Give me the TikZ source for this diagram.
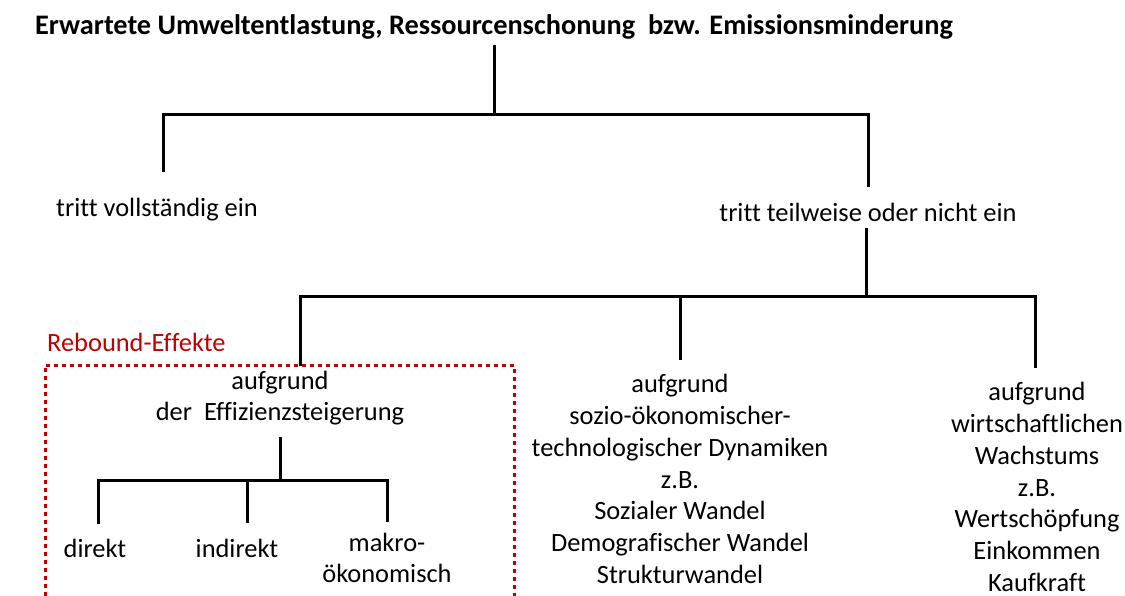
\documentclass[tikz,border=0pt]{standalone}
\usepackage{fontspec}
\setmainfont{Carlito}[Ligatures=NoCommon]
\definecolor{rebred}{RGB}{192,0,0}
\begin{document}
\begin{tikzpicture}[x=1pt,y=-1pt,
  lbl/.style={font=\fontsize{26.4}{31.7}\selectfont, align=center, inner sep=0pt},
  branch/.style={line width=3pt, black},
  rebbox/.style={line width=3pt, rebred, dash pattern=on 4pt off 4pt}]
\useasboundingbox (0,0) rectangle (1125,596);

% texts
\node[lbl, font=\fontsize{28.3}{32}\bfseries] (title) at (494,27) {Erwartete Umweltentlastung, Ressourcenschonung\ \ bzw. Emissionsminderung};
\node[lbl] (voll) at (157,210) {tritt vollständig ein};
\node[lbl] (teil) at (868,212) {tritt teilweise oder nicht ein};
\node[lbl, rebred, anchor=west] (reb) at (47,342) {Rebound-Effekte};
\node[lbl] (eff) at (280,398) {aufgrund\\der\ \ Effizienzsteigerung};
\node[lbl] (sozio) at (680,479) {aufgrund\\sozio-ökonomischer-\\technologischer Dynamiken\\z.B.\\Sozialer Wandel\\Demografischer Wandel\\Strukturwandel};
\node[lbl] (wachs) at (1037,487) {aufgrund\\wirtschaftlichen\\Wachstums\\z.B.\\Wertschöpfung\\Einkommen\\Kaufkraft};
\node[lbl] (direkt) at (95,548) {direkt};
\node[lbl] (indirekt) at (237,548) {indirekt};
\node[lbl] (makro) at (387,558) {makro-\\ökonomisch};

% junctions
\coordinate (j0) at (494,115);
\coordinate (j1) at (866,296);
\coordinate (j2) at (280,480);

% main tree
\draw[branch] (494,45) -- (j0);
\draw[branch] (163,172) |- (j0) -| (868,187);
\draw[branch] (866,228) -- (j1);
\draw[branch] (300,366) |- (j1) -| (1035,368);
\draw[branch] (680,296) -- (680,360);

% efficiency subtree
\draw[branch] (280,437) -- (j2);
\draw[branch] (98,524) |- (j2) -| (387,522);
\draw[branch] (247,480) -- (247,523);

% rebound frame
\draw[rebbox] (45,596) |- (514,365) -- (514,596);
\end{tikzpicture}
\end{document}
